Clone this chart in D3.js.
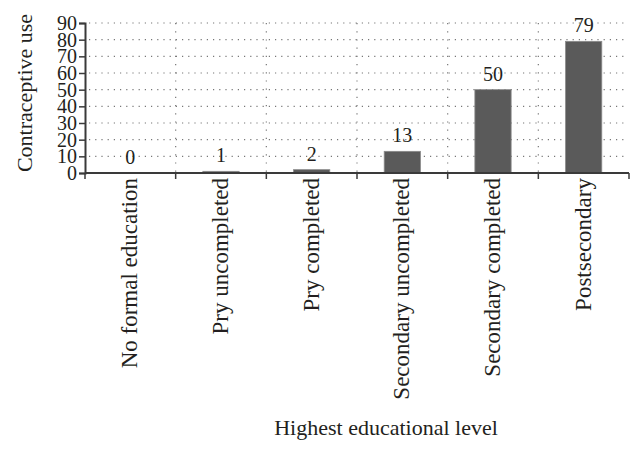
<!DOCTYPE html>
<html>
<head>
<meta charset="utf-8">
<script src="https://cdn.jsdelivr.net/npm/d3@7"></script>
<style>
  body { margin: 0; background: #fff; }
  text { font-family: "Liberation Serif", serif; fill: #231f20; }
</style>
</head>
<body>
<script>
// chart data
const categories = [
  "No formal education",
  "Pry uncompleted",
  "Pry completed",
  "Secondary uncompleted",
  "Secondary completed",
  "Postsecondary"
];
const values = [0, 1, 2, 13, 50, 79];
const yTicks = [0, 10, 20, 30, 40, 50, 60, 70, 80, 90];

//set the dimensions and margins of the graph
const margin = { top: 23, right: 15, bottom: 281, left: 85 },
  width = 644 - margin.left - margin.right,
  height = 454 - margin.top - margin.bottom;

const svg = d3
  .select("body")
  .append("svg")
  .attr("width", 644)
  .attr("height", 454)
  .append("g")
  .attr("transform", `translate(${margin.left},${margin.top})`);

const x = d3.scaleBand().domain(categories).range([0, width]).padding(0);
const y = d3.scaleLinear().domain([0, 90]).range([height, 0]);

// horizontal dotted grid
svg
  .selectAll(".hgrid")
  .data(yTicks.slice(1))
  .enter()
  .append("line")
  .attr("x1", 4)
  .attr("x2", width - 5)
  .attr("y1", (d) => y(d))
  .attr("y2", (d) => y(d))
  .attr("stroke", "#777")
  .attr("stroke-width", 1.2)
  .attr("stroke-dasharray", "1.2,5");

// vertical dotted grid at category boundaries
svg
  .selectAll(".vgrid")
  .data(categories.slice(1))
  .enter()
  .append("line")
  .attr("x1", (d) => x(d))
  .attr("x2", (d) => x(d))
  .attr("y1", 0)
  .attr("y2", height)
  .attr("stroke", "#777")
  .attr("stroke-width", 1.2)
  .attr("stroke-dasharray", "1.2,7");

//add the bars
const barW = x.bandwidth() * 0.4;
svg
  .selectAll(".bar")
  .data(values)
  .enter()
  .append("rect")
  .attr("x", (d, i) => x(categories[i]) + x.bandwidth() / 2 - barW / 2)
  .attr("y", (d) => y(d))
  .attr("width", barW)
  .attr("height", (d) => height - y(d))
  .attr("fill", "#5a5a5a")
  .attr("stroke", "#8a8a8a")
  .attr("stroke-width", 0.8);

// value labels
svg
  .selectAll(".val")
  .data(values)
  .enter()
  .append("text")
  .attr("x", (d, i) => x(categories[i]) + x.bandwidth() / 2)
  .attr("y", (d) => y(d) - 9)
  .attr("text-anchor", "middle")
  .style("font-size", "20px")
  .text((d) => d);

// y axis
const yAxis = d3.axisLeft(y).tickValues(yTicks).tickSize(6).tickPadding(2);
const gy = svg.append("g").call(yAxis);
gy.select(".domain").attr("stroke", "#3a3a3a").attr("stroke-width", 2);
gy.selectAll(".tick line").attr("stroke", "#3a3a3a").attr("stroke-width", 1.5);
gy.selectAll(".tick text")
  .style("font-size", "20px")
  .style("font-family", "Liberation Serif, serif")
  .attr("fill", "#231f20");

// x axis line with boundary ticks
svg
  .append("line")
  .attr("x1", 0)
  .attr("x2", width)
  .attr("y1", height)
  .attr("y2", height)
  .attr("stroke", "#3a3a3a")
  .attr("stroke-width", 2);
const bounds = categories.map((c) => x(c)).concat([width]);
svg
  .selectAll(".xtick")
  .data(bounds)
  .enter()
  .append("line")
  .attr("x1", (d) => d)
  .attr("x2", (d) => d)
  .attr("y1", height)
  .attr("y2", height + 6)
  .attr("stroke", "#3a3a3a")
  .attr("stroke-width", 1.5);

// category labels
svg
  .selectAll(".cat")
  .data(categories)
  .enter()
  .append("text")
  .attr("transform", (d) => `translate(${x(d) + x.bandwidth() / 2},${height + 5}) rotate(-90)`)
  .attr("text-anchor", "end")
  .attr("dy", "0.3em")
  .style("font-size", "23px")
  .text((d) => d);

// axis titles
svg
  .append("text")
  .attr("transform", `translate(${32 - margin.left},${93 - margin.top}) rotate(-90)`)
  .attr("text-anchor", "middle")
  .style("font-size", "22px")
  .text("Contraceptive use");

svg
  .append("text")
  .attr("x", 386 - margin.left)
  .attr("y", 435 - margin.top)
  .attr("text-anchor", "middle")
  .style("font-size", "22px")
  .text("Highest educational level");
</script>
</body>
</html>
